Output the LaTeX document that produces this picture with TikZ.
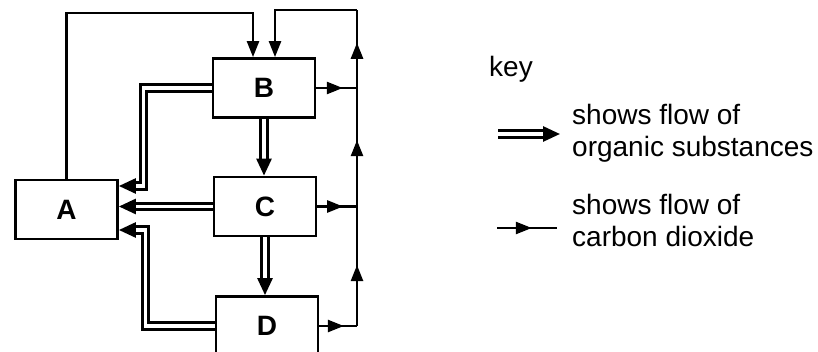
\documentclass[tikz,border=0pt]{standalone}
\usepackage{fontspec}
\setmainfont{Liberation Sans}
\usetikzlibrary{arrows.meta, positioning, calc, decorations.markings}

\tikzset{
  box/.style={draw, line width=2.8pt, minimum width=102pt, minimum height=59pt, inner sep=0pt, font=\fontsize{28pt}{32pt}\selectfont\bfseries},
  co2/.style={line width=2.5pt},
  co2tip/.style={-{Triangle[length=16pt,width=12pt]}},
  midtip/.style={postaction={decorate}, decoration={markings, mark=at position #1 with {\arrow{Triangle[length=16pt,width=12pt]}}}},
  organic/.style={double=white, double distance=3.5pt, line width=2.8pt, -{Triangle[length=17pt,width=15pt]}},
  keytext/.style={anchor=west, align=left, inner sep=0pt}
}

\begin{document}
\begin{tikzpicture}[x=1pt, y=-1pt, font=\fontsize{28pt}{32pt}\selectfont]
  \useasboundingbox (0,0) rectangle (818,352);

  % Boxes
  \node[box] (A) at (66.5,209.5) {A};
  \node[box] (B) at (264,88) {B};
  \node[box] (C) at (265,206.5) {C};
  \node[box] (D) at (267,326) {D};

  % Carbon dioxide collecting line
  \coordinate (top) at (357,10);
  \coordinate (jB) at (B.east -| top);
  \coordinate (jC) at (C.east -| top);
  \coordinate (jD) at (D.east -| top);
  \draw[co2, midtip=0.65] (B.east) -- (jB);
  \draw[co2, midtip=0.65] (C.east) -- (jC);
  \draw[co2, midtip=0.65] (D.east) -- (jD);
  \draw[co2, midtip=0.51] (jD) -- (jC);
  \draw[co2, midtip=0.56] (jC) -- (jB);
  \draw[co2, midtip=0.58] (jB) -- (top);

  % Carbon dioxide into B
  \coordinate (inL) at ($(B.north)+(-11,0)$);
  \coordinate (inR) at ($(B.north)+(11,0)$);
  \coordinate (ovA) at (66.5,13);
  \draw[co2, co2tip] (top) -| (inR);
  \draw[co2, co2tip] (A.north) -- (ovA) -| (inL);

  % Organic substances
  \draw[organic] (B.west) -- ++(-68,0) |- ($(A.east)+(0,-23.5)$);
  \draw[organic] (C.west) -- (C.west -| A.east);
  \draw[organic] (D.west) -- ++(-69,0) |- ($(A.east)+(0,20.5)$);
  \draw[organic] (B.south) -- (B.south |- C.north);
  \draw[organic] (C.south) -- (C.south |- D.north);

  % Key
  \node[anchor=base] (key) at (511,77) {key};
  \coordinate (k1s) at (498,134);
  \coordinate (k1e) at (560,134);
  \draw[organic] (k1s) -- (k1e);
  \node[keytext] (k1t) at (572,133.7) {shows flow of\\organic substances};
  \coordinate (k2s) at (497,228);
  \coordinate (k2e) at (557,228);
  \draw[co2, midtip=0.58] (k2s) -- (k2e);
  \node[keytext] (k2t) at (572,220.8) {shows flow of\\carbon dioxide};
\end{tikzpicture}
\end{document}
